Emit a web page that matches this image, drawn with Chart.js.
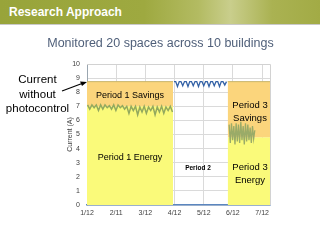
<!DOCTYPE html>
<html><head><meta charset="utf-8">
<script src="https://cdn.jsdelivr.net/npm/chart.js@4"></script>
<style>
html,body{margin:0;padding:0;background:#fff;width:320px;height:240px;overflow:hidden;font-family:"Liberation Sans",Arial,sans-serif;}
#wrap{position:relative;width:320px;height:240px;}
canvas{position:absolute;left:0;top:0;}
.ov{position:absolute;white-space:nowrap;text-align:center;}
#hdr{left:0;top:0;width:320px;height:24px;background:linear-gradient(90deg,#98a43a 0%,#9ea940 45%,#b3bb62 62%,#c9ce8c 72%,#aab252 85%,#a2ab45 100%);border-bottom:1px solid #c9c9c9;z-index:2;}
#hdr span{position:absolute;left:9px;top:0;line-height:24px;font-weight:bold;font-size:12px;color:#fff;}
</style></head><body><div id="wrap">
<canvas id="c" width="320" height="240"></canvas>
<div id="hdr" class="ov"><span>Research Approach</span></div>
<div class="ov" style="left:0;width:321px;top:34px;line-height:18px;font-size:12.5px;color:#50607a;">Monitored 20 spaces across 10 buildings</div>
<div class="ov" style="left:0;width:75px;top:72px;line-height:14.5px;font-size:11.5px;color:#000;">Current<br>without<br>photocontrol</div>
<svg class="ov" style="left:0;top:0;" width="320" height="240"><line x1="62" y1="91" x2="82" y2="83.5" stroke="#000" stroke-width="1.2"/><polygon points="87,82 80,81.5 82,86" fill="#000"/></svg>
<div class="ov" style="left:80px;width:100px;top:89px;line-height:12px;font-size:9px;color:#000;">Period 1 Savings</div>
<div class="ov" style="left:80px;width:100px;top:151px;line-height:12px;font-size:9px;color:#000;">Period 1 Energy</div>
<div class="ov" style="left:220px;width:60px;top:98px;line-height:13px;font-size:9.5px;color:#000;">Period 3<br>Savings</div>
<div class="ov" style="left:220px;width:60px;top:160px;line-height:13px;font-size:9.5px;color:#000;">Period 3<br>Energy</div>
<div class="ov" style="left:178px;width:40px;top:163px;line-height:9px;font-size:6.5px;font-weight:bold;color:#000;">Period 2</div>
</div>
<script>
// tick labels (x axis: months since 1/12)
const monthLabels = ['1/12','2/11','3/12','4/12','5/12','6/12','7/12'];
const monthTicks = [0,1,2,3,4,5,6];
// period extents (in months since 1/12)
const period1 = [0, 2.95];
const period2 = [2.97, 4.78];
const period3 = [4.82, 6.27];
// levels (A)
const baselineCurrent = 8.75;
const period1EnergyLevel = 7.0;
const period3EnergyLevel = 4.8;
// measured current (A)
const p1Start = 0.02, p1Step = 0.0746;
const p1Measured = [7.1,6.8,7.1,6.9,7.1,6.7,7.1,6.8,7.1,6.9,7.05,6.8,7.1,6.7,7.1,6.9,7.05,6.8,7.0,6.5,7.0,6.7,7.0,6.4,6.95,6.6,7.0,6.5,6.95,6.7,7.0,6.4,6.95,6.6,7.0,6.5,6.95,6.7,7.0,6.6];
const p2Start = 2.98, p2Step = 0.06;
const p2Measured = [8.75,8.75,8.4,8.75,8.75,8.45,8.75,8.75,8.4,8.75,8.75,8.45,8.75,8.75,8.4,8.75,8.75,8.45,8.75,8.75,8.4,8.75,8.75,8.45,8.75,8.75,8.4,8.75,8.75,8.5,8.75];
const p3Start = 4.87, p3Step = 0.04;
const p3Measured = [5.7,4.4,5.8,4.6,5.6,4.3,5.8,4.5,5.7,4.4,5.9,4.6,5.6,4.3,5.8,4.5,5.7,4.6,5.5,4.4,5.6,4.7,5.3];

const pts = (start, step, arr) => arr.map((v,i)=>({x:start+i*step, y:v}));
const flat = (range, v) => [{x:range[0],y:v},{x:range[1],y:v}];
const YEL = '#fafa7a', ORG = '#fbd57c';
const base = {pointRadius:0, borderWidth:0, tension:0};

const plotFrame = {
  id:'plotFrame',
  afterDraw(chart){
    const {ctx, chartArea:a} = chart;
    ctx.save(); ctx.strokeStyle='#d2d2d2'; ctx.lineWidth=1;
    ctx.beginPath(); ctx.moveTo(a.left, a.top+0.5); ctx.lineTo(a.right+0.5, a.top+0.5); ctx.lineTo(a.right+0.5, a.bottom); ctx.stroke();
    ctx.restore();
  }
};

new Chart(document.getElementById('c'), {
  type:'line',
  data:{datasets:[
    Object.assign({}, base, {order:5, data:flat(period1, period1EnergyLevel), fill:'origin', backgroundColor:YEL}),
    Object.assign({}, base, {order:4, data:flat(period1, baselineCurrent), fill:'-1', backgroundColor:ORG, borderWidth:1, borderColor:'#c9b56a'}),
    Object.assign({}, base, {order:5, data:flat(period3, period3EnergyLevel), fill:'origin', backgroundColor:YEL}),
    Object.assign({}, base, {order:4, data:flat(period3, baselineCurrent), fill:'-1', backgroundColor:ORG, borderWidth:1, borderColor:'#c9b56a'}),
    Object.assign({}, base, {order:1, data:pts(p1Start,p1Step,p1Measured), fill:false, borderWidth:1.5, borderColor:'#93a95e'}),
    Object.assign({}, base, {order:1, data:pts(p2Start,p2Step,p2Measured), fill:false, borderWidth:1.3, borderColor:'#3462a6'}),
    Object.assign({}, base, {order:1, data:pts(p3Start,p3Step,p3Measured), fill:false, borderWidth:1.3, borderColor:'#9aab68'})
  ]},
  options:{
    responsive:false, animation:false, devicePixelRatio:1,
    layout:{padding:{left:62, right:50, top:64, bottom:15}},
    plugins:{legend:{display:false}, tooltip:{enabled:false}},
    scales:{
      x:{type:'linear', min:0, max:period3[1],
        afterBuildTicks(s){ s.ticks = monthTicks.map(v=>({value:v})); },
        afterFit(s){ s.height = 20; },
        ticks:{callback:(v,i)=>monthLabels[i], font:{size:7, family:'"Liberation Sans",Arial'}, color:'#404040', padding:4, maxRotation:0, autoSkip:false},
        grid:{color:'#dadada', drawTicks:false},
        border:{color:'#5b86bf', width:1.5}
      },
      y:{min:0, max:10,
        afterFit(s){ s.width = 25; },
        ticks:{stepSize:1, font:{size:7, family:'"Liberation Sans",Arial'}, color:'#404040', padding:7},
        grid:{color:'#dadada', drawTicks:false},
        border:{color:'#9aa6b0', width:1},
        title:{display:true, text:'Current (A)', font:{size:7, family:'"Liberation Sans",Arial'}, color:'#404040', padding:{top:4,bottom:2}}
      }
    }
  },
  plugins:[plotFrame]
});
</script></body></html>
